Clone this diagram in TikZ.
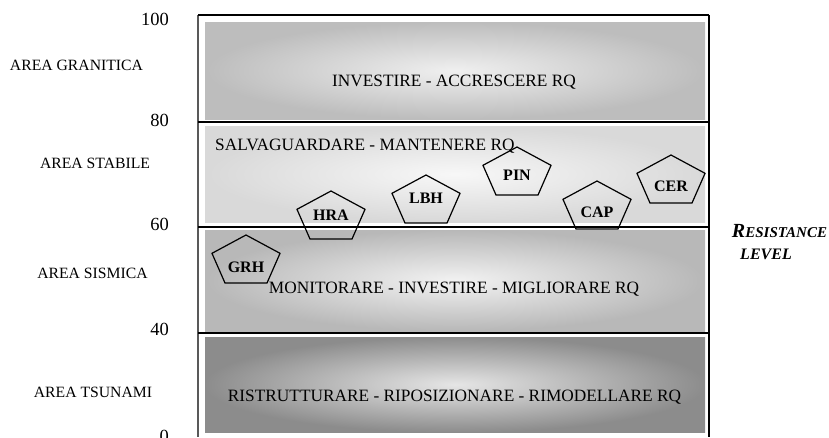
\documentclass[tikz,border=0pt]{standalone}
\usepackage{fontspec}
\setmainfont{Liberation Serif}
\usetikzlibrary{positioning}
\definecolor{granitout}{gray}{0.74}
\definecolor{granitin}{gray}{0.94}
\definecolor{stabout}{gray}{0.85}
\definecolor{stabin}{gray}{0.97}
\definecolor{sismout}{gray}{0.72}
\definecolor{sismin}{gray}{0.95}
\definecolor{tsunout}{gray}{0.55}
\definecolor{tsunin}{gray}{0.90}
\tikzset{every node/.style={inner sep=0pt},
         axisnum/.style={anchor=east,font=\fontsize{18.5}{20}\selectfont},
         arealabel/.style={font=\fontsize{15.7}{18}\selectfont},
         bandtext/.style={font=\fontsize{17.3}{20}\selectfont},
         badge/.style={font=\bfseries\fontsize{16}{18}\selectfont},
         pentline/.style={draw=black,line width=1.2pt,line join=miter},
         frameline/.style={line width=2pt},
         }

\begin{document}
\begin{tikzpicture}[x=1pt,y=-1pt]
\useasboundingbox (0,0) rectangle (829,437);
\clip (0,0) rectangle (829,437);
% bands
\shade[inner color=granitin,outer color=granitout] (205,22) rectangle (705,119);
\shade[inner color=stabin,outer color=stabout] (205,126) rectangle (705,222);
\shade[inner color=sismin,outer color=sismout] (205,230) rectangle (705,331);
\shade[inner color=tsunin,outer color=tsunout] (205,337) rectangle (705,432);
% frame
\coordinate (tl) at (198,15);
\coordinate (tr) at (709,15);
\coordinate (bl) at (198,437);
\coordinate (br) at (709,437);
\draw[frameline,gray!70!black] (tl) -- (bl);
\draw[frameline] (tr) -- (br);
\draw[line width=1.5pt] (tl) -- (tr);
\foreach \yy in {122,226.5,333}
  \draw[frameline] (198,\yy) -- (710,\yy);
% axis
\foreach \val/\yy in {100/19,80/120,60/224,40/329,0/436}
  \node[axisnum] (num\val) at (169,\yy) {\val};
\node[arealabel] (granitica) at (76.5,65) {AREA GRANITICA};
\node[arealabel] (stabile) at (95,163) {AREA STABILE};
\node[arealabel] (sismica) at (92.5,273) {AREA SISMICA};
\node[arealabel] (tsunami) at (93,392) {AREA TSUNAMI};
% band texts
\node[bandtext] (investire) at (454,82) {INVESTIRE - ACCRESCERE RQ};
\node[bandtext,anchor=west] (salva) at (215,146) {SALVAGUARDARE - MANTENERE RQ};
\node[bandtext] (monitorare) at (454,289) {MONITORARE - INVESTIRE - MIGLIORARE RQ};
\node[bandtext] (ristrutt) at (454.5,397) {RISTRUTTURARE - RIPOSIZIONARE - RIMODELLARE RQ};
% pentagons
\foreach \id/\px/\py/\ty in {GRH/246/261.5/267,HRA/331/217.5/215,LBH/426/201.5/198,
                             PIN/517/173.5/175,CAP/597/207.5/212,CER/671/181.5/186}{
  \draw[pentline,shift={(\px,\py)},xscale=1.35]
    (-90:26.5) -- (-18:26.5) -- (54:26.5) -- (126:26.5) -- (198:26.5) -- cycle;
  \node[badge] (\id) at (\px,\ty) {\id};
}
% resistance level
\node[font=\bfseries\itshape] (resist) at (779.5,231)
  {{\fontsize{20}{20}\selectfont R}{\fontsize{15}{20}\selectfont ESISTANCE}};
\node[font=\bfseries\itshape\fontsize{16}{20}\selectfont] (level) at (766,254) {LEVEL};
\end{tikzpicture}
\end{document}
